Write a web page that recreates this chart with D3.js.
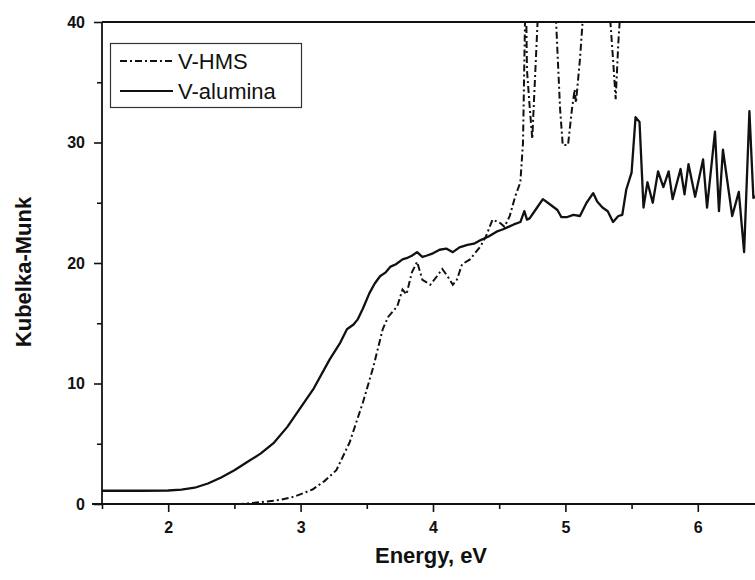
<!DOCTYPE html>
<html>
<head>
<meta charset="utf-8">
<script src="https://cdn.jsdelivr.net/npm/d3@7"></script>
<style>
  body { margin: 0; background: #fff; }
  svg text { font-family: "Liberation Sans", Arial, sans-serif; fill: #111; }
</style>
</head>
<body>
<div id="chart"></div>
<script>
// V-alumina (solid line)
var alumE = [1.5, 1.8, 2.0, 2.1, 2.2, 2.3, 2.4, 2.5, 2.6, 2.7, 2.8, 2.9, 3.0, 3.1, 3.22, 3.3, 3.35, 3.4, 3.43, 3.47, 3.52, 3.56, 3.6, 3.64, 3.68, 3.72, 3.77, 3.8, 3.84, 3.88, 3.92, 3.95, 4.0, 4.05, 4.1, 4.15, 4.2, 4.26, 4.31, 4.36, 4.42, 4.48, 4.53, 4.57, 4.61, 4.66, 4.69, 4.71, 4.73, 4.78, 4.83, 4.88, 4.94, 4.97, 5.01, 5.06, 5.11, 5.16, 5.21, 5.24, 5.28, 5.32, 5.36, 5.40, 5.43, 5.46, 5.50, 5.53, 5.56, 5.59, 5.62, 5.66, 5.70, 5.74, 5.78, 5.81, 5.87, 5.90, 5.93, 5.98, 6.04, 6.07, 6.13, 6.16, 6.19, 6.26, 6.31, 6.35, 6.39, 6.42, 6.47];
var alumKM = [1.1, 1.1, 1.12, 1.2, 1.35, 1.7, 2.2, 2.8, 3.5, 4.2, 5.1, 6.4, 8.0, 9.6, 12.0, 13.4, 14.5, 14.9, 15.3, 16.2, 17.5, 18.3, 18.9, 19.2, 19.7, 19.9, 20.3, 20.4, 20.6, 20.9, 20.5, 20.6, 20.8, 21.1, 21.2, 20.9, 21.3, 21.5, 21.6, 21.9, 22.2, 22.6, 22.8, 23.0, 23.2, 23.4, 24.3, 23.6, 23.7, 24.5, 25.3, 24.9, 24.4, 23.8, 23.8, 24.0, 23.9, 25.0, 25.8, 25.1, 24.6, 24.3, 23.4, 23.9, 24.0, 26.1, 27.5, 32.1, 31.7, 24.6, 26.7, 25.0, 27.6, 26.3, 27.6, 25.3, 27.8, 25.7, 28.2, 25.5, 28.6, 24.6, 30.9, 24.3, 29.4, 23.9, 25.9, 20.9, 32.6, 25.4, 25.8];

// V-HMS (dash-dot line), values above 40 run off the top of the frame
var hmsE = [1.5, 2.0, 2.55, 2.6, 2.7, 2.84, 2.95, 3.09, 3.18, 3.27, 3.37, 3.47, 3.55, 3.62, 3.66, 3.73, 3.77, 3.80, 3.84, 3.88, 3.92, 3.98, 4.03, 4.07, 4.11, 4.15, 4.18, 4.22, 4.28, 4.36, 4.40, 4.45, 4.51, 4.54, 4.58, 4.62, 4.66, 4.68, 4.695, 4.70, 4.71, 4.73, 4.75, 4.76, 4.79, 4.80, 4.90, 4.93, 4.96, 4.98, 5.02, 5.05, 5.07, 5.08, 5.11, 5.13, 5.15, 5.25, 5.33, 5.34, 5.36, 5.38, 5.40, 5.41, 5.43, 5.6, 6.47];
var hmsKM = [0, 0, 0, 0.05, 0.15, 0.33, 0.6, 1.2, 1.9, 2.8, 5.1, 8.4, 11.4, 14.5, 15.5, 16.4, 17.8, 17.4, 19.2, 20.1, 18.6, 18.2, 18.9, 19.5, 18.9, 18.2, 18.6, 19.9, 20.3, 21.4, 22.2, 23.6, 23.3, 23.0, 23.9, 25.5, 26.7, 30, 40, 44, 36, 33, 30.3, 32.8, 40, 45, 48, 40, 32.8, 29.8, 29.8, 32.8, 34.4, 33.3, 36.9, 40, 45, 50, 42, 40, 36.9, 33.6, 38.3, 40, 46, 55, 55];

var xTicks = [2, 3, 4, 5, 6];
var xMinor = [1.5, 2.5, 3.5, 4.5, 5.5];
var yTicks = [0, 10, 20, 30, 40];
var yMinor = [5, 15, 25, 35];

var seriesNames = ["V-HMS", "V-alumina"];

var width = 755, height = 580;
var x = d3.scaleLinear().domain([1.5, 6.47]).range([102, 760]);
var y = d3.scaleLinear().domain([0, 40]).range([504, 22]);

var svg = d3.select("#chart").append("svg")
  .attr("width", width)
  .attr("height", height);

svg.append("clipPath").attr("id", "plotclip")
  .append("rect")
    .attr("x", 102).attr("y", 22)
    .attr("width", width - 102).attr("height", 482);

var line = d3.line()
  .x(function(d) { return x(d[0]); })
  .y(function(d) { return y(d[1]); });

var alum = alumE.map(function(e, i) { return [e, alumKM[i]]; });
var hms = hmsE.map(function(e, i) { return [e, hmsKM[i]]; });

var plot = svg.append("g").attr("clip-path", "url(#plotclip)");

plot.append("path")
  .datum(hms)
  .attr("fill", "none")
  .attr("stroke", "#111")
  .attr("stroke-width", 2)
  .attr("stroke-dasharray", "7,3,2,3")
  .attr("d", line);

plot.append("path")
  .datum(alum)
  .attr("fill", "none")
  .attr("stroke", "#111")
  .attr("stroke-width", 2.3)
  .attr("stroke-linejoin", "round")
  .attr("d", line);

// axes
var xAxis = svg.append("g")
  .attr("transform", "translate(0," + y(0) + ")")
  .call(d3.axisBottom(x).tickValues(xTicks).tickSize(8).tickPadding(10).tickFormat(d3.format("d")));
var xAxisMinor = svg.append("g")
  .attr("transform", "translate(0," + y(0) + ")")
  .call(d3.axisBottom(x).tickValues(xMinor).tickSize(5).tickFormat(""));

var yAxis = svg.append("g")
  .attr("transform", "translate(" + x(1.5) + ",0)")
  .call(d3.axisLeft(y).tickValues(yTicks).tickSize(8).tickPadding(9).tickFormat(d3.format("d")));
var yAxisMinor = svg.append("g")
  .attr("transform", "translate(" + x(1.5) + ",0)")
  .call(d3.axisLeft(y).tickValues(yMinor).tickSize(5).tickFormat(""));

[xAxis, xAxisMinor, yAxis, yAxisMinor].forEach(function(g) {
  g.select(".domain").remove();
  g.selectAll("line").attr("stroke", "#111").attr("stroke-width", 1.6);
  g.selectAll("text")
    .attr("font-size", "16px")
    .attr("font-weight", "bold")
    .attr("fill", "#111");
});

// frame lines
svg.append("line")
  .attr("x1", 92).attr("x2", width)
  .attr("y1", y(0)).attr("y2", y(0))
  .attr("stroke", "#111").attr("stroke-width", 1.8);
svg.append("line")
  .attr("x1", x(1.5)).attr("x2", width)
  .attr("y1", y(40)).attr("y2", y(40))
  .attr("stroke", "#111").attr("stroke-width", 1.8);
svg.append("line")
  .attr("x1", x(1.5)).attr("x2", x(1.5))
  .attr("y1", y(0)).attr("y2", y(40))
  .attr("stroke", "#111").attr("stroke-width", 1.8);

// axis titles
svg.append("text")
  .attr("x", 431).attr("y", 563)
  .attr("text-anchor", "middle")
  .attr("font-size", "22px")
  .attr("font-weight", "bold")
  .text("Energy, eV");

svg.append("text")
  .attr("transform", "translate(31,272) rotate(-90)")
  .attr("text-anchor", "middle")
  .attr("font-size", "22px")
  .attr("font-weight", "bold")
  .text("Kubelka-Munk");

// legend
var legend = svg.append("g");
legend.append("rect")
  .attr("x", 110.5).attr("y", 43.5)
  .attr("width", 191).attr("height", 64)
  .attr("fill", "#fff")
  .attr("stroke", "#333").attr("stroke-width", 1.2);

var dashes = ["7,3,2,3", null];
seriesNames.forEach(function(name, i) {
  var ly = 61 + i * 30;
  legend.append("line")
    .attr("x1", 120).attr("x2", 173)
    .attr("y1", ly).attr("y2", ly)
    .attr("stroke", "#111").attr("stroke-width", 2)
    .attr("stroke-dasharray", dashes[i]);
  legend.append("text")
    .attr("x", 178).attr("y", ly + 8)
    .attr("font-size", "22px")
    .text(name);
});
</script>
</body>
</html>
